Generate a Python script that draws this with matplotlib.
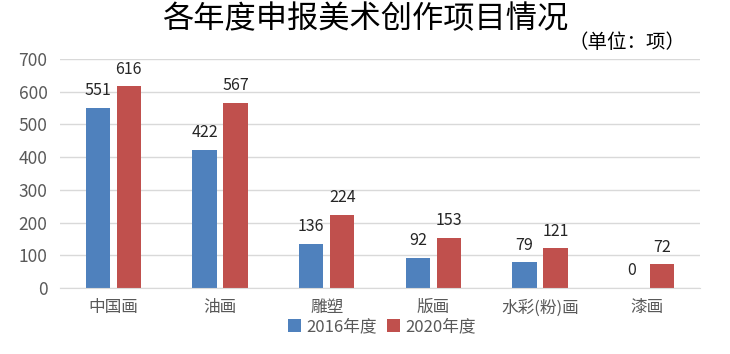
import numpy as np
import matplotlib.pyplot as plt

plt.rcParams['font.family'] = ['Noto Sans CJK SC', 'DejaVu Sans']

categories = ['中国画', '油画', '雕塑', '版画', '水彩(粉)画', '漆画']
y2016 = [551, 422, 136, 92, 79, 0]
y2020 = [616, 567, 224, 153, 121, 72]

blue = '#4F81BD'
red = '#C0504D'
grey = '#595959'

fig = plt.figure(figsize=(7.3, 3.54), dpi=100)
ax = fig.add_axes([60 / 730, 1 - 288 / 354, 640 / 730, 229 / 354])

x = np.arange(len(categories))
w = 0.23
off = 0.145
b1 = ax.bar(x - off, y2016, w, color=blue, label='2016年度')
b2 = ax.bar(x + off, y2020, w, color=red, label='2020年度')

# value labels above each bar
for rects, vals in ((b1, y2016), (b2, y2020)):
    for r, v in zip(rects, vals):
        ax.text(r.get_x() + r.get_width() / 2, v + 26, str(v),
                ha='center', va='bottom', fontsize=11.5, color='#262626')

ax.set_xlim(-0.5, len(categories) - 0.5)
ax.set_ylim(0, 700)
ax.set_yticks(range(0, 701, 100))
ax.set_xticks(x)
ax.set_xticklabels(categories, fontsize=12, color=grey)
ax.tick_params(axis='y', labelsize=12.5, colors=grey, length=0, pad=9)
ax.tick_params(axis='x', length=0, pad=8)
ax.grid(axis='y', color='#D9D9D9', linewidth=1)
ax.set_axisbelow(True)
for s in ['top', 'right', 'left']:
    ax.spines[s].set_visible(False)
ax.spines['bottom'].set_color('#D9D9D9')

fig.text(365 / 730, 1 - 19 / 354, '各年度申报美术创作项目情况', ha='center', va='center',
         fontsize=22.5, color='black')
fig.text(627 / 730, 1 - 42 / 354, '（单位：项）', ha='center', va='center',
         fontsize=14, color='black')

fig.legend(loc='center', bbox_to_anchor=(382 / 730, 1 - 327 / 354), ncol=2,
           frameon=False, fontsize=12, handlelength=0.8, handleheight=0.8,
           handletextpad=0.3, columnspacing=0.6, labelcolor=grey)

fig.savefig('out.png', dpi=100)
